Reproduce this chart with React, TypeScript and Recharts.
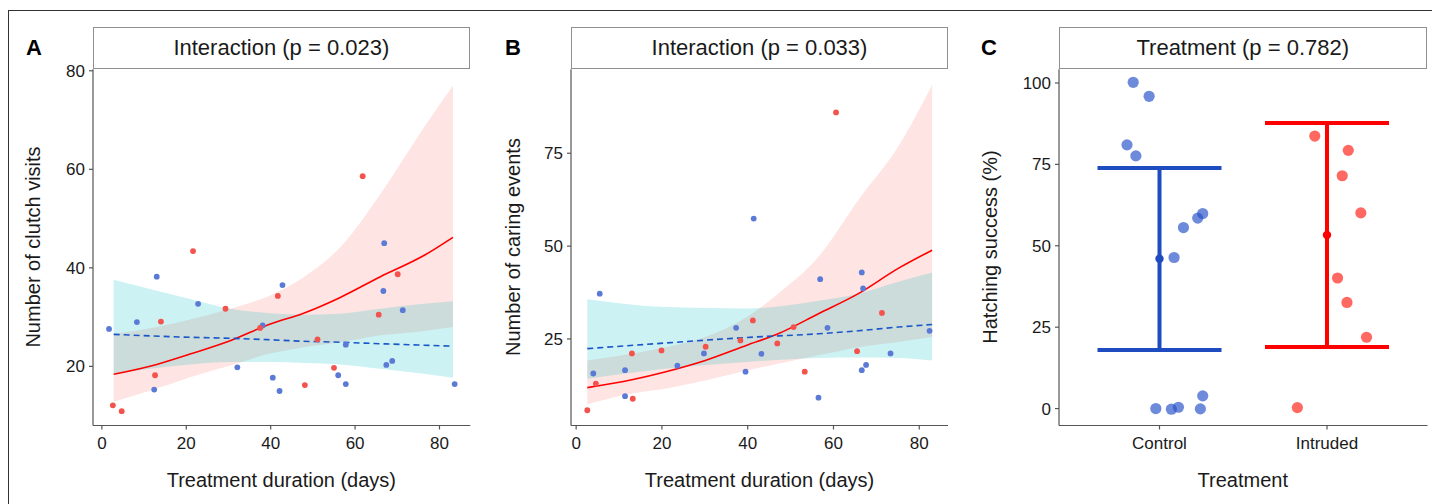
import React from "react";
import { ComposedChart, Scatter, Line, Area, XAxis, YAxis, ErrorBar } from "recharts";

const FONT = '"Liberation Sans", Arial, Helvetica, sans-serif';

// ---- Panel A: clutch visits ----
const clutchControl = [
  { x: 1.7, y: 27.6 }, { x: 8.3, y: 29.0 }, { x: 13.0, y: 38.2 }, { x: 12.4, y: 15.3 },
  { x: 22.8, y: 32.7 }, { x: 32.1, y: 19.8 }, { x: 38.1, y: 28.3 }, { x: 42.8, y: 36.5 },
  { x: 40.5, y: 17.7 }, { x: 42.1, y: 15.0 }, { x: 56.0, y: 18.2 }, { x: 57.8, y: 24.4 },
  { x: 57.8, y: 16.4 }, { x: 66.9, y: 45.0 }, { x: 66.7, y: 35.3 }, { x: 67.4, y: 20.3 },
  { x: 68.8, y: 21.1 }, { x: 71.3, y: 31.4 }, { x: 83.6, y: 16.4 },
];
const clutchIntruded = [
  { x: 2.6, y: 12.1 }, { x: 4.7, y: 10.9 }, { x: 12.6, y: 18.2 }, { x: 14.0, y: 29.1 },
  { x: 21.6, y: 43.4 }, { x: 29.3, y: 31.7 }, { x: 37.5, y: 27.8 }, { x: 41.7, y: 34.3 },
  { x: 51.1, y: 25.5 }, { x: 48.1, y: 16.2 }, { x: 55.0, y: 19.7 }, { x: 61.8, y: 58.6 },
  { x: 65.6, y: 30.5 }, { x: 70.1, y: 38.7 },
];
const clutchFitIntruded = [
  { x: 2.8, y: 18.4, lo: 12.8, hi: 26.6 }, { x: 13.0, y: 20.4, lo: 15.5, hi: 28.0 },
  { x: 20.9, y: 22.5, lo: 17.8, hi: 29.5 }, { x: 30.4, y: 25.2, lo: 20.2, hi: 31.7 },
  { x: 39.9, y: 28.6, lo: 22.6, hi: 34.4 }, { x: 47.8, y: 30.8, lo: 23.9, hi: 38.1 },
  { x: 56.5, y: 34.0, lo: 24.9, hi: 44.2 }, { x: 66.0, y: 38.2, lo: 26.3, hi: 55.0 },
  { x: 76.3, y: 42.5, lo: 27.2, hi: 68.5 }, { x: 83.2, y: 46.2, lo: 28.0, hi: 77.0 },
];
const clutchFitControl = [
  { x: 2.8, y: 26.5, lo: 18.5, hi: 37.6 }, { x: 20.9, y: 25.9, lo: 20.4, hi: 33.7 },
  { x: 30.4, y: 25.7, lo: 20.9, hi: 31.7 }, { x: 39.9, y: 25.4, lo: 20.9, hi: 30.8 },
  { x: 47.8, y: 25.1, lo: 20.7, hi: 30.5 }, { x: 56.5, y: 24.9, lo: 20.4, hi: 30.7 },
  { x: 66.0, y: 24.6, lo: 19.5, hi: 31.7 }, { x: 76.3, y: 24.3, lo: 18.5, hi: 32.7 },
  { x: 83.2, y: 24.1, lo: 17.7, hi: 33.2 },
];

// ---- Panel B: caring events ----
const caringControl = [
  { x: 4.0, y: 15.7 }, { x: 5.5, y: 37.2 }, { x: 11.4, y: 16.6 }, { x: 11.4, y: 9.6 },
  { x: 23.6, y: 17.8 }, { x: 29.8, y: 21.1 }, { x: 37.3, y: 28.0 }, { x: 39.5, y: 16.2 },
  { x: 41.4, y: 57.4 }, { x: 43.2, y: 21.0 }, { x: 56.5, y: 9.2 }, { x: 56.9, y: 41.1 },
  { x: 58.6, y: 28.0 }, { x: 66.6, y: 42.9 }, { x: 66.9, y: 38.6 }, { x: 66.6, y: 16.6 },
  { x: 67.6, y: 18.0 }, { x: 73.3, y: 21.1 }, { x: 82.4, y: 27.2 },
];
const caringIntruded = [
  { x: 2.6, y: 5.8 }, { x: 4.6, y: 13.0 }, { x: 13.0, y: 21.1 }, { x: 13.2, y: 8.9 },
  { x: 19.9, y: 21.9 }, { x: 30.2, y: 22.9 }, { x: 38.3, y: 24.6 }, { x: 41.2, y: 30.0 },
  { x: 46.9, y: 23.8 }, { x: 50.7, y: 28.2 }, { x: 53.3, y: 16.2 }, { x: 60.6, y: 86.0 },
  { x: 65.5, y: 21.7 }, { x: 71.3, y: 32.0 },
];
const caringFitIntruded = [
  { x: 2.6, y: 11.9, lo: 7.4, hi: 19.2 }, { x: 13.0, y: 14.0, lo: 10.3, hi: 21.0 },
  { x: 20.7, y: 16.1, lo: 11.6, hi: 22.7 }, { x: 30.1, y: 19.2, lo: 13.8, hi: 25.5 },
  { x: 39.8, y: 23.3, lo: 16.5, hi: 30.9 }, { x: 47.1, y: 26.4, lo: 18.3, hi: 37.2 },
  { x: 56.5, y: 31.8, lo: 20.6, hi: 47.1 }, { x: 65.8, y: 37.2, lo: 22.8, hi: 62.4 },
  { x: 75.1, y: 44.0, lo: 24.2, hi: 76.8 }, { x: 83.0, y: 48.9, lo: 25.5, hi: 93.4 },
];
const caringFitControl = [
  { x: 2.6, y: 22.4, lo: 14.3, hi: 35.7 }, { x: 20.7, y: 23.9, lo: 17.0, hi: 33.6 },
  { x: 39.8, y: 25.4, lo: 18.8, hi: 33.2 }, { x: 56.5, y: 26.4, lo: 19.9, hi: 35.3 },
  { x: 65.8, y: 27.2, lo: 20.0, hi: 37.2 }, { x: 75.1, y: 28.2, lo: 19.9, hi: 40.4 },
  { x: 83.0, y: 28.9, lo: 19.2, hi: 42.9 },
];

// ---- Panel C: hatching success ----
const treatments = ["Control", "Intruded"];
const hatchControl = [
  { x: 0.843, y: 100.2 }, { x: 0.938, y: 95.9 }, { x: 0.806, y: 81.0 }, { x: 0.859, y: 77.6 },
  { x: 1.143, y: 55.6 }, { x: 1.228, y: 58.5 }, { x: 1.258, y: 59.9 }, { x: 1.087, y: 46.4 },
  { x: 0.978, y: 0.0 }, { x: 1.071, y: -0.2 }, { x: 1.113, y: 0.4 }, { x: 1.244, y: -0.1 },
  { x: 1.258, y: 3.9 },
];
const hatchIntruded = [
  { x: 1.927, y: 83.7 }, { x: 2.127, y: 79.3 }, { x: 2.091, y: 71.5 }, { x: 2.202, y: 60.1 },
  { x: 2.063, y: 40.1 }, { x: 2.119, y: 32.6 }, { x: 2.236, y: 21.9 }, { x: 1.823, y: 0.3 },
];
const hatchMeanControl = [{ x: 1, y: 46.0, lo: 18.0, hi: 73.9 }];
const hatchMeanIntruded = [{ x: 2, y: 53.3, lo: 18.9, hi: 87.7 }];

// ErrorBar wants offsets from the mean
const withErr = (rows: { x: number; y: number; lo: number; hi: number }[]) =>
  rows.map((r) => ({ ...r, err: [r.y - r.lo, r.hi - r.y] }));

const BLUE_PT = "#5b7ad6";
const RED_PT = "#f4524c";
const AXIS = "#555";
const TXT = "#1a1a1a";
const PLOT_TOP = 69.3;
const PLOT_BOTTOM = 425.5;
const H = 504;

const dot = (fill: string, r: number, opacity = 1) => (p: any) =>
  <circle cx={p.cx} cy={p.cy} r={r} fill={fill} fillOpacity={opacity} />;

const tickStyle = { fill: TXT, fontSize: 17, fontFamily: FONT };

function Strip({ left, right, text }: { left: number; right: number; text: string }) {
  return (
    <div style={{
      position: "absolute", left, top: 26.7, width: right - left, height: PLOT_TOP - 26.7,
      border: "1.3px solid #909090", boxSizing: "border-box", display: "flex",
      alignItems: "center", justifyContent: "center", fontSize: 22, color: TXT,
    }}>{text}</div>
  );
}

function Labels({ letter, letterX, yLabel, yLabelX, xLabel, left, right }: any) {
  return (
    <>
      <div style={{ position: "absolute", left: letterX - 12, top: 35, width: 24, textAlign: "center", fontWeight: "bold", fontSize: 22, color: "#000" }}>{letter}</div>
      <div style={{
        position: "absolute", left: yLabelX - 150, top: (PLOT_TOP + PLOT_BOTTOM) / 2 - 12, width: 300, height: 24,
        textAlign: "center", fontSize: 20, color: TXT, transform: "rotate(-90deg)", lineHeight: "24px",
      }}>{yLabel}</div>
      <div style={{ position: "absolute", left, width: right - left, top: 469, textAlign: "center", fontSize: 20, color: TXT }}>{xLabel}</div>
    </>
  );
}

function FitPanel(props: any) {
  const { left, right, xDomain, yDomain, yTicks, fitIntr, fitCtrl, ptsCtrl, ptsIntr } = props;
  const w = right - left + 76;
  return (
    <>
      <div style={{ position: "absolute", left: left - 70, top: 0 }}>
        <ComposedChart width={w} height={H} margin={{ top: PLOT_TOP, right: 6, left: 10, bottom: H - PLOT_BOTTOM - 30 }}>
          <XAxis type="number" dataKey="x" domain={xDomain} allowDataOverflow ticks={[0, 20, 40, 60, 80]} interval={0}
            height={30} stroke={AXIS} strokeWidth={1.2} tickSize={4} tickMargin={7} tick={tickStyle} />
          <YAxis type="number" dataKey="y" domain={yDomain} allowDataOverflow ticks={yTicks} interval={0}
            width={60} stroke={AXIS} strokeWidth={1.2} tickSize={4} tickMargin={4} tick={tickStyle} />
          <Area data={fitIntr} dataKey={(d: any) => [d.lo, d.hi]} type="monotone" stroke="none" fill="#F8766D" fillOpacity={0.2} isAnimationActive={false} activeDot={false} />
          <Area data={fitCtrl} dataKey={(d: any) => [d.lo, d.hi]} type="monotone" stroke="none" fill="#00BFC4" fillOpacity={0.2} isAnimationActive={false} activeDot={false} />
          <Line data={fitIntr} dataKey="y" type="monotone" stroke="#ff0000" strokeWidth={1.6} dot={false} activeDot={false} isAnimationActive={false} />
          <Line data={fitCtrl} dataKey="y" type="monotone" stroke="#1a56c8" strokeWidth={1.6} strokeDasharray="6 4" dot={false} activeDot={false} isAnimationActive={false} />
          <Scatter data={ptsCtrl} dataKey="y" shape={dot(BLUE_PT, 2.9)} isAnimationActive={false} />
          <Scatter data={ptsIntr} dataKey="y" shape={dot(RED_PT, 2.9)} isAnimationActive={false} />
        </ComposedChart>
      </div>
      <Strip left={left} right={right} text={props.title} />
      <Labels letter={props.letter} letterX={props.letterX} yLabel={props.yLabel} yLabelX={props.yLabelX}
        xLabel="Treatment duration (days)" left={left} right={right} />
    </>
  );
}

function HatchPanel() {
  const left = 1058.5;
  const right = 1427;
  const w = right - left + 76;
  return (
    <>
      <div style={{ position: "absolute", left: left - 70, top: 0 }}>
        <ComposedChart width={w} height={H} margin={{ top: PLOT_TOP, right: 6, left: 10, bottom: H - PLOT_BOTTOM - 30 }}>
          <XAxis type="number" dataKey="x" domain={[0.4, 2.6]} allowDataOverflow ticks={[1, 2]} interval={0}
            tickFormatter={(v: number) => treatments[v - 1]}
            height={30} stroke={AXIS} strokeWidth={1.2} tickSize={4} tickMargin={7} tick={tickStyle} />
          <YAxis type="number" dataKey="y" domain={[-5.2, 104.2]} allowDataOverflow ticks={[0, 25, 50, 75, 100]} interval={0}
            width={60} stroke={AXIS} strokeWidth={1.2} tickSize={4} tickMargin={4} tick={tickStyle} />
          <Scatter data={hatchControl} dataKey="y" shape={dot("#2a52c8", 5.6, 0.68)} isAnimationActive={false} />
          <Scatter data={hatchIntruded} dataKey="y" shape={dot("#ff2a20", 5.6, 0.7)} isAnimationActive={false} />
          <Scatter data={withErr(hatchMeanControl)} dataKey="y" shape={dot("#1e4cc0", 4.2)} isAnimationActive={false}>
            <ErrorBar dataKey="err" direction="y" width={62} stroke="#1e4cc0" strokeWidth={4} isAnimationActive={false} />
          </Scatter>
          <Scatter data={withErr(hatchMeanIntruded)} dataKey="y" shape={dot("#ff0000", 4.2)} isAnimationActive={false}>
            <ErrorBar dataKey="err" direction="y" width={62} stroke="#ff0000" strokeWidth={4} isAnimationActive={false} />
          </Scatter>
        </ComposedChart>
      </div>
      <Strip left={left} right={right} text="Treatment (p = 0.782)" />
      <Labels letter="C" letterX={989} yLabel="Hatching success (%)" yLabelX={990} xLabel="Treatment" left={left} right={right} />
    </>
  );
}

export default function App() {
  return (
    <div style={{ position: "absolute", left: 0, top: 0, width: 1432, height: H, background: "#fff", fontFamily: FONT, overflow: "hidden" }}>
      <div style={{ position: "absolute", left: 8, top: 10, width: 1440, height: 520, borderLeft: "1.3px solid #333", borderTop: "1.3px solid #333" }} />
      <FitPanel left={92.7} right={470} xDomain={[-2.1, 87.3]} yDomain={[8.0, 80.3]} yTicks={[20, 40, 60, 80]}
        fitIntr={clutchFitIntruded} fitCtrl={clutchFitControl} ptsCtrl={clutchControl} ptsIntr={clutchIntruded}
        title="Interaction (p = 0.023)" letter="A" letterX={34} yLabel="Number of clutch visits" yLabelX={33} />
      <FitPanel left={571} right={948} xDomain={[-1.2, 86.7]} yDomain={[1.7, 97.6]} yTicks={[25, 50, 75]}
        fitIntr={caringFitIntruded} fitCtrl={caringFitControl} ptsCtrl={caringControl} ptsIntr={caringIntruded}
        title="Interaction (p = 0.033)" letter="B" letterX={513} yLabel="Number of caring events" yLabelX={513} />
      <HatchPanel />
    </div>
  );
}
